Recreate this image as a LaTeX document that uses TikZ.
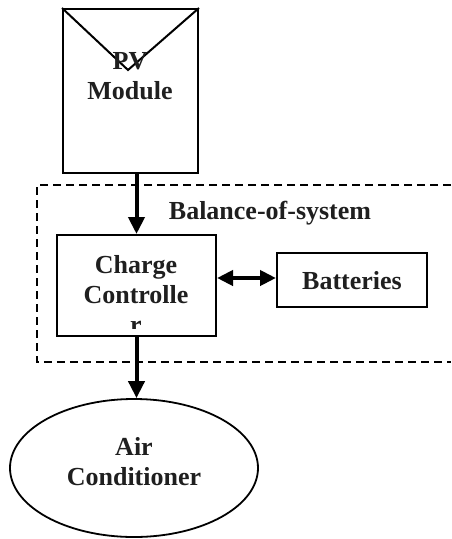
\documentclass[tikz,border=0pt]{standalone}
\usepackage{fontspec}
\setmainfont{Liberation Serif}
\usetikzlibrary{shapes.geometric,arrows.meta,calc}
\begin{document}
\begin{tikzpicture}[x=1pt,y=-1pt,
  box/.style={draw, line width=2pt, rectangle, inner sep=0pt},
  lbl/.style={font=\fontsize{26}{30}\selectfont\bfseries, text=black!88, align=center, inner sep=0pt},
  flow/.style={line width=4pt, -{Triangle[length=17pt,width=16pt]}},
  flowboth/.style={line width=4pt, {Triangle[length=16pt,width=15pt]}-{Triangle[length=16pt,width=15pt]}},
  bos/.style={dash pattern=on 8pt off 5pt, line width=1.8pt}]
\useasboundingbox (0,0) rectangle (451,539);
% dashed balance-of-system region
\coordinate (d1) at (451,185);
\coordinate (d2) at (37,185);
\coordinate (d3) at (37,362);
\coordinate (d4) at (451,362);
\draw[bos] (d1) -- (d2) -- (d3) -- (d4);
% PV module
\node[box, minimum width=135pt, minimum height=164pt] (pv) at (130.5,91) {};
\draw[line width=2pt] (pv.north west) -- (128,70) -- (pv.north east);
\node[lbl] (pvt) at (130,76) {PV\\Module};
% charge controller
\node[box, minimum width=159pt, minimum height=101pt] (cc) at (136.5,285.5) {};
\begin{scope}
\clip (50,230) rectangle (225,328.5);
\node[lbl] (cct) at (136,294) {Charge\\Controlle\\r};
\end{scope}
% batteries
\node[box, minimum width=150pt, minimum height=54pt] (bat) at (352,280) {};
\node[lbl] (batt) at (352,281) {Batteries};
% balance label
\node[lbl] (bosl) at (270,213) {Balance-of-system};
% air conditioner
\node[draw, line width=1.8pt, ellipse, minimum width=248pt, minimum height=138pt, inner sep=0pt] (ac) at (134,468) {};
\node[lbl] (act) at (134,462) {Air\\Conditioner};
% connectors
\draw[flow] (cc.north |- pv.south) -- (cc.north);
\draw[flow] (cc.south) -- (cc.south |- ac.north);
\path (cc.east |- bat.west) ++(0,-2) coordinate (ba);
\path (bat.west) ++(0,-2) coordinate (bb);
\draw[flowboth] (ba) -- (bb);
\end{tikzpicture}
\end{document}
